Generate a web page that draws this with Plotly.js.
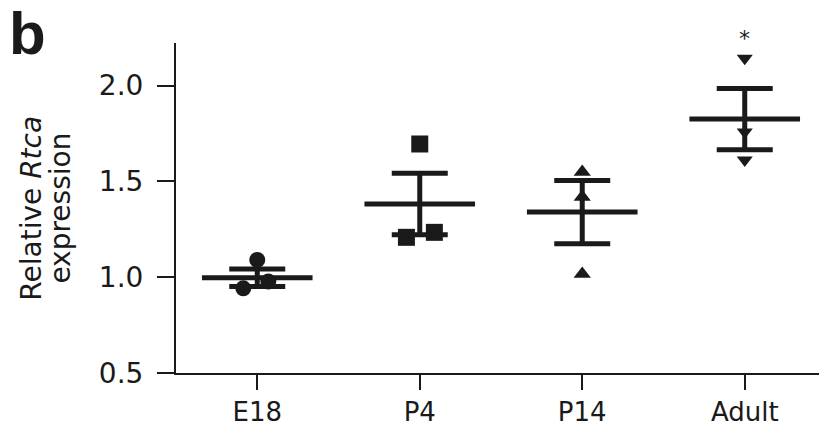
<!DOCTYPE html>
<html>
<head>
<meta charset="utf-8">
<script src="https://cdn.plot.ly/plotly-3.0.1.min.js"></script>
<style>
  html, body { margin: 0; padding: 0; background: #fff; }
  #chart { width: 819px; height: 428px; }
</style>
</head>
<body>
<div id="chart"></div>
<script>
// ---- data ----
const categories = ['E18', 'P4', 'P14', 'Adult'];
const e18Values   = [1.09, 0.942, 0.977];
const p4Values    = [1.695, 1.208, 1.234];
const p14Values   = [1.549, 1.418, 1.017];
const adultValues = [2.143, 1.757, 1.611];
const e18Jitter   = [0, -0.086, 0.068];
const p4Jitter    = [0, -0.082, 0.09];
const p14Jitter   = [0, 0, 0];
const adultJitter = [0, 0, 0];
const means = [0.997, 1.382, 1.34, 1.825];
const sems  = [0.046, 0.16, 0.165, 0.16];
const yTickVals = [0.5, 1.0, 1.5, 2.0];
const yTickText = ['0.5', '1.0', '1.5', '2.0'];
const significance = ['', '', '', '*'];

const ink = '#1a1a1a';
const groups = [
  { vals: e18Values,   jit: e18Jitter,   sym: 'circle',        size: 16 },
  { vals: p4Values,    jit: p4Jitter,    sym: 'square',        size: 17 },
  { vals: p14Values,   jit: p14Jitter,   sym: 'triangle-up',   size: 15 },
  { vals: adultValues, jit: adultJitter, sym: 'triangle-down', size: 14 }
];

const traces = groups.map((g, i) => ({
  type: 'scatter', mode: 'markers',
  x: g.vals.map((v, k) => i + g.jit[k]),
  y: g.vals,
  marker: { symbol: g.sym, size: g.size, color: ink, line: { width: 0 } },
  hoverinfo: 'skip', cliponaxis: false
}));

traces.push({
  type: 'scatter', mode: 'markers',
  x: categories.map((c, i) => i),
  y: means,
  marker: { symbol: 'line-ew', size: 79, color: ink, line: { width: 5, color: ink } },
  error_y: { type: 'data', array: sems, visible: true, color: ink, thickness: 5, width: 28 },
  hoverinfo: 'skip', cliponaxis: false
});

const annotations = [];
significance.forEach((s, i) => {
  if (s) annotations.push({
    x: i, xref: 'x', y: 1.015, yref: 'paper', text: s, showarrow: false,
    xanchor: 'center', yanchor: 'middle',
    font: { family: 'DejaVu Sans', size: 22, color: ink }
  });
});
annotations.push({
  x: -0.226, xref: 'paper', y: 0.5, yref: 'paper',
  text: 'Relative <i>Rtca</i>', textangle: -90, showarrow: false,
  xanchor: 'center', yanchor: 'middle',
  font: { family: 'DejaVu Sans', size: 28, color: ink }
});
annotations.push({
  x: -0.181, xref: 'paper', y: 0.5, yref: 'paper',
  text: 'expression', textangle: -90, showarrow: false,
  xanchor: 'center', yanchor: 'middle',
  font: { family: 'DejaVu Sans', size: 28, color: ink }
});
annotations.push({
  x: -0.262, xref: 'paper', y: 1.132, yref: 'paper',
  text: '<b>b</b>', showarrow: false, borderpad: 0,
  xanchor: 'left', yanchor: 'top',
  font: { family: 'Liberation Sans', size: 60, color: ink }
});

const layout = {
  width: 819, height: 428,
  margin: { l: 176, r: 0, t: 43, b: 55, pad: 0 },
  paper_bgcolor: '#fff', plot_bgcolor: '#fff',
  showlegend: false,
  font: { family: 'DejaVu Sans', color: ink },
  xaxis: {
    range: [-0.5, 3.457],
    tickmode: 'array', tickvals: categories.map((c, i) => i), ticktext: categories,
    showgrid: false, zeroline: false,
    showline: true, linecolor: ink, linewidth: 2,
    ticks: 'outside', ticklen: 15, tickwidth: 2, tickcolor: ink,
    tickfont: { family: 'DejaVu Sans', size: 26, color: ink },
    ticklabelstandoff: 0
  },
  yaxis: {
    range: [0.5, 2.222],
    tickmode: 'array', tickvals: yTickVals, ticktext: yTickText,
    showgrid: false, zeroline: false,
    showline: true, linecolor: ink, linewidth: 2,
    ticks: 'outside', ticklen: 17, tickwidth: 2, tickcolor: ink,
    tickfont: { family: 'DejaVu Sans', size: 28, color: ink },
    ticklabelstandoff: 8
  },
  annotations: annotations
};

Plotly.newPlot('chart', traces, layout, { staticPlot: true, displayModeBar: false });
</script>
</body>
</html>
